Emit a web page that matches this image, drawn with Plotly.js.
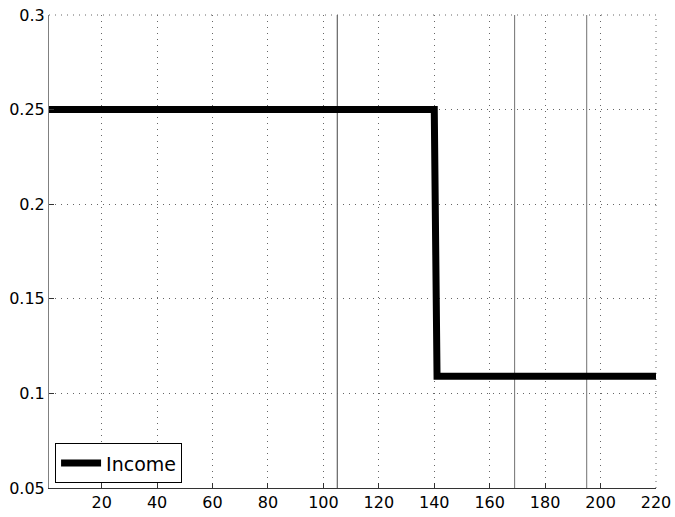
<!DOCTYPE html>
<html>
<head>
<meta charset="utf-8">
<script src="https://cdn.plot.ly/plotly-3.0.1.min.js"></script>
<style>html,body{margin:0;padding:0;background:#fff;}#chart{width:675px;height:517px;}</style>
</head>
<body>
<div id="chart"></div>
<script>
// Data
const incomeX = [1, 140, 141, 220];
const incomeY = [0.25, 0.25, 0.109, 0.109];
const vlineX = [105, 169, 195];
const xTicks = [20, 40, 60, 80, 100, 120, 140, 160, 180, 200, 220];
const yTicks = [0.05, 0.1, 0.15, 0.2, 0.25, 0.3];
const yTickLabels = ['0.05', '0.1', '0.15', '0.2', '0.25', '0.3'];

const font = {family: 'DejaVu Sans, Liberation Sans, Arial, sans-serif', size: 16, color: '#000'};

const traces = [{
  x: incomeX, y: incomeY, type: 'scatter', mode: 'lines', name: 'Income',
  line: {color: '#000', width: 7}
}];

const shapes = vlineX.map((v, i) => ({
  type: 'line', xref: 'x', yref: 'paper', x0: v, x1: v, y0: 0, y1: 1,
  line: {color: i === 0 ? '#444' : '#707070', width: 1}, layer: 'below'
}));
// dotted gridlines at top and right edges
shapes.push({type: 'line', xref: 'paper', yref: 'paper', x0: 0, x1: 1, y0: 1, y1: 1,
  line: {color: '#666', width: 1, dash: '1px,5px'}, layer: 'below'});
shapes.push({type: 'line', xref: 'paper', yref: 'paper', x0: 1, x1: 1, y0: 0, y1: 1,
  line: {color: '#666', width: 1, dash: '1px,5px'}, layer: 'below'});

const layout = {
  width: 675, height: 517,
  margin: {l: 49, r: 19, t: 15, b: 29, pad: 0},
  paper_bgcolor: '#fff', plot_bgcolor: '#fff',
  font: font,
  showlegend: true,
  legend: {x: 0.01, y: 0.01, xanchor: 'left', yanchor: 'bottom',
    bgcolor: '#fff', bordercolor: '#000', borderwidth: 1,
    font: {family: font.family, size: 19, color: '#000'},
    itemwidth: 40, tracegroupgap: 0},
  xaxis: {
    range: [1, 220], tickmode: 'array', tickvals: xTicks, ticktext: xTicks.map(String),
    showgrid: true, gridcolor: '#666', griddash: '1px,5px', gridwidth: 1,
    showline: true, linecolor: '#333', linewidth: 1,
    ticks: 'inside', ticklen: 5, tickcolor: '#333',
    zeroline: false, tickfont: font
  },
  yaxis: {
    range: [0.05, 0.3], tickmode: 'array', tickvals: yTicks, ticktext: yTickLabels,
    showgrid: true, gridcolor: '#666', griddash: '1px,5px', gridwidth: 1,
    showline: true, linecolor: '#808080', linewidth: 1,
    ticks: 'inside', ticklen: 5, tickcolor: '#333',
    zeroline: false, tickfont: font
  },
  shapes: shapes
};

Plotly.newPlot('chart', traces, layout, {displayModeBar: false, staticPlot: true});
</script>
</body>
</html>
